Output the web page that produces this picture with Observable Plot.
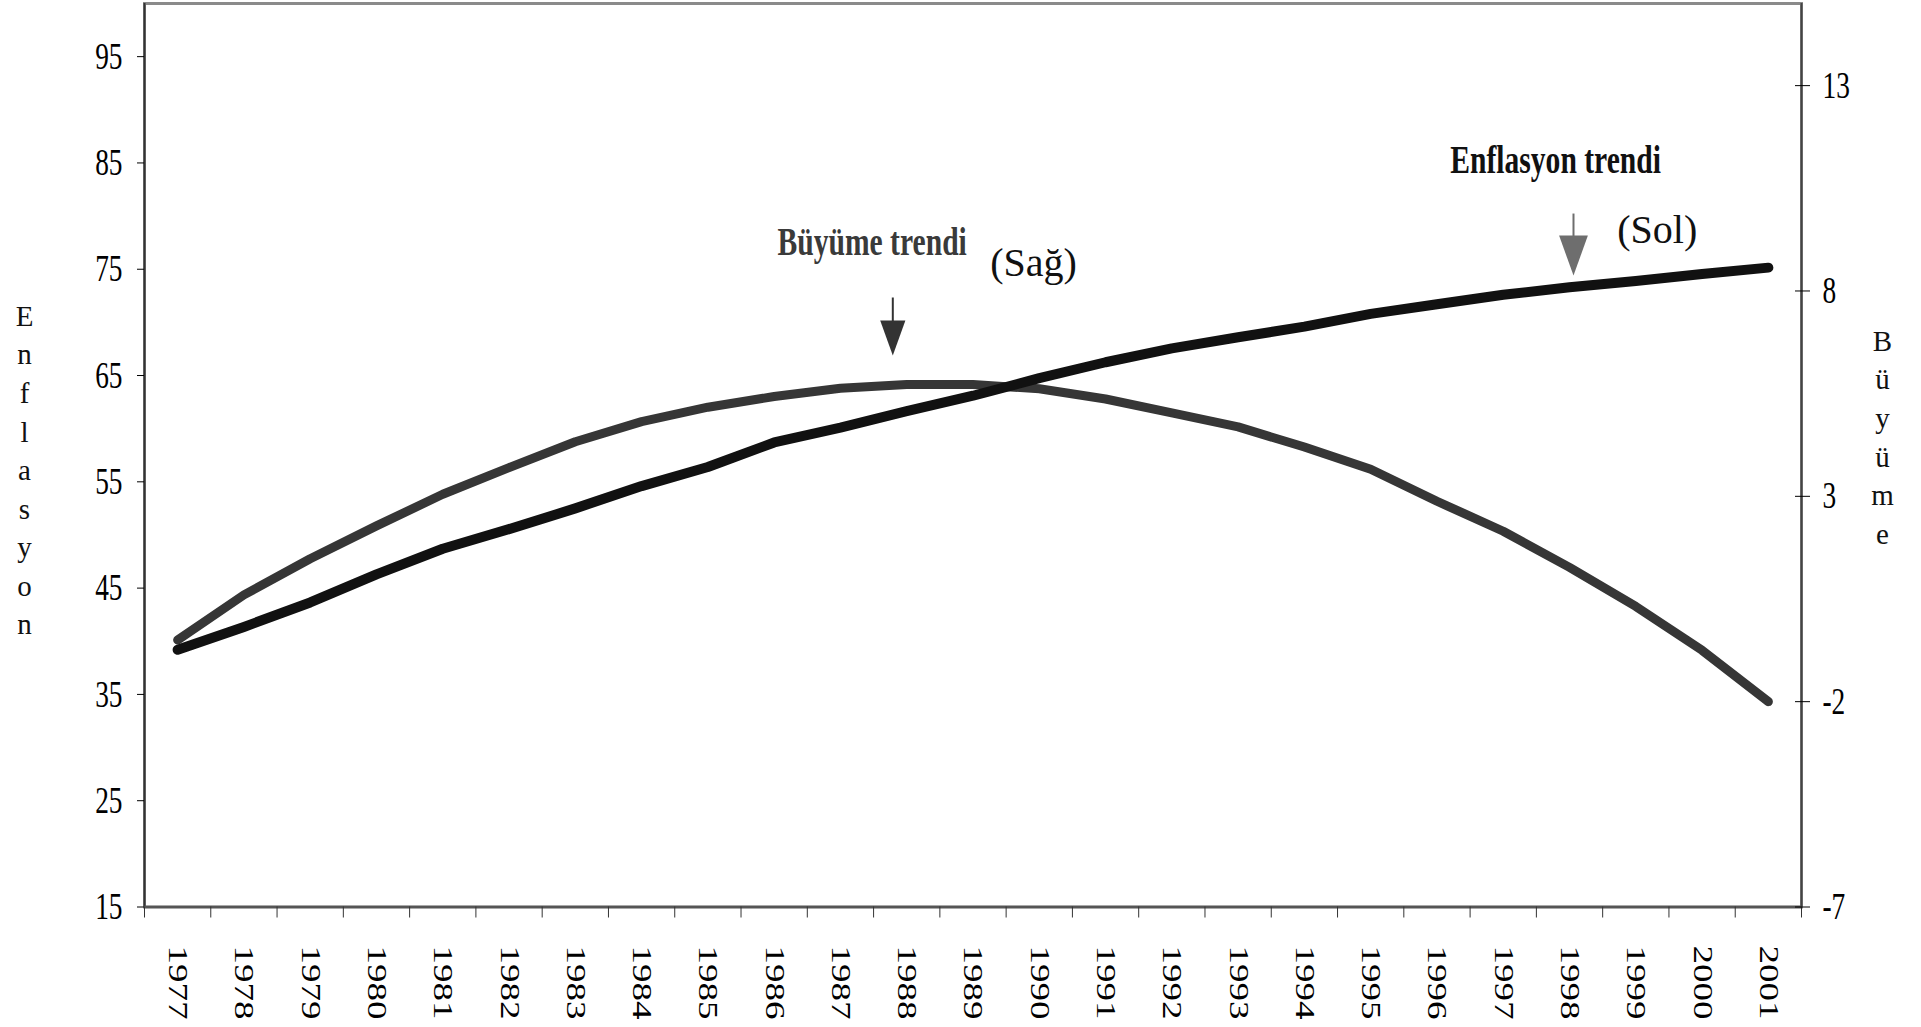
<!DOCTYPE html>
<html>
<head>
<meta charset="utf-8">
<script src="https://cdn.jsdelivr.net/npm/d3@7"></script>
<script src="https://cdn.jsdelivr.net/npm/@observablehq/plot@0.6"></script>
<style>
  html, body { margin: 0; padding: 0; background: #fff; overflow: hidden; }
  svg { display: block; }
</style>
</head>
<body>
<div id="chart"></div>
<script>
// ---- data ----
const years = [1977,1978,1979,1980,1981,1982,1983,1984,1985,1986,1987,1988,1989,1990,1991,1992,1993,1994,1995,1996,1997,1998,1999,2000,2001];
// Enflasyon trendi (left axis)
const inflationTrend = [39.2,41.35,43.65,46.3,48.7,50.55,52.5,54.6,56.4,58.7,60.1,61.65,63.1,64.75,66.25,67.55,68.6,69.6,70.8,71.7,72.6,73.3,73.9,74.55,75.15];
// Büyüme trendi (right axis)
const growthTrend = [-0.5,0.6,1.48,2.28,3.05,3.7,4.33,4.82,5.17,5.43,5.63,5.72,5.72,5.62,5.37,5.03,4.69,4.2,3.66,2.88,2.15,1.27,0.32,-0.75,-2.0];
const leftTicks = [15,25,35,45,55,65,75,85,95];
const rightTicks = [-7,-2,3,8,13];
const leftDomain = [15,100];
const rightDomain = [-7,15];
const leftTitle = "Enflasyon";
const rightTitle = "Büyüme";
const notesBold = [
  {text: "Büyüme trendi", u: 9.55, v: 77.5, color: "#3a3a3a"},
  {text: "Enflasyon trendi", u: 19.70, v: 85.23, color: "#111"}
];
const notesPlain = [
  {text: "(Sağ)", u: 12.76, v: 75.54},
  {text: "(Sol)", u: 22.22, v: 78.64}
];
const arrows = [
  {u: 11.29, vTop: 72.34, vBase: 69.9, vHead: 68.53, r: 17.5, color: "#333"},
  {u: 21.56, vTop: 80.24, vBase: 77.9, vHead: 76.29, r: 20, color: "#6e6e6e"}
];

// ---- helpers ----
const k = (leftDomain[1] - leftDomain[0]) / (rightDomain[1] - rightDomain[0]);
const toLeft = r => leftDomain[0] + (r - rightDomain[0]) * k;
const fromLeft = l => rightDomain[0] + (l - leftDomain[0]) / k;
const table = years.map((y, i) => ({u: i + 0.5, year: y, inf: inflationTrend[i], gr: toLeft(growthTrend[i])}));
const boundaries = d3.range(0, years.length + 1);
const centers = years.map((y, i) => i + 0.5);
const downTriangle = {
  draw(ctx, size) {
    const r = Math.sqrt(size / Math.PI), w = r * 0.72;
    ctx.moveTo(-w, -r); ctx.lineTo(w, -r); ctx.lineTo(0, r); ctx.closePath();
  }
};
const font = "'Liberation Serif', 'Times New Roman', serif";

const svg = Plot.plot({
  width: 1921,
  height: 1027,
  marginTop: 3,
  marginBottom: 120.5,
  marginLeft: 144,
  marginRight: 120,
  x: {domain: [0, years.length], axis: null},
  y: {domain: leftDomain, axis: null},
  style: {fontFamily: font, color: "#000", background: "#fff", overflow: "visible"},
  marks: [
    Plot.frame({stroke: "#8a8a8a", strokeWidth: 3}),
    Plot.ruleX([0], {stroke: "#333", strokeWidth: 2}),
    Plot.ruleX([years.length], {stroke: "#444", strokeWidth: 2}),
    Plot.ruleY([leftDomain[0]], {stroke: "#555", strokeWidth: 2.5}),
    // x ticks at year boundaries
    Plot.axisX(boundaries, {tickSize: 11, stroke: "#333", tickFormat: () => "", label: null}),
    // x labels at band centres
    Plot.axisX(centers, {tickSize: 0, tickRotate: 90, tickPadding: 38.5, fontSize: 37, label: null,
      tickFormat: d => String(years[Math.floor(d)])}),
    // left axis
    Plot.axisY(leftTicks, {anchor: "left", tickSize: 7, tickPadding: 15, fontSize: 38, label: null,
      tickFormat: d => String(d)}),
    // right axis
    Plot.axisY(rightTicks.map(toLeft), {anchor: "right", tickSize: 15, dx: -7, tickPadding: 13, fontSize: 38, label: null,
      tickFormat: d => String(Math.round(fromLeft(d)))}),
    // axis titles (stacked letters)
    Plot.text([leftTitle.split("").join("\n")], {frameAnchor: "top-left", dx: -120, dy: 295,
      textAnchor: "middle", lineAnchor: "top", lineHeight: 1.33, fontSize: 29, fill: "#111"}),
    Plot.text([rightTitle.split("").join("\n")], {frameAnchor: "top-right", dx: 81, dy: 320,
      textAnchor: "middle", lineAnchor: "top", lineHeight: 1.33, fontSize: 29, fill: "#111"}),
    // series
    Plot.line(table, {x: "u", y: "gr", stroke: "#363636", strokeWidth: 9,
      strokeLinecap: "round", strokeLinejoin: "round"}),
    Plot.line(table, {x: "u", y: "inf", stroke: "#111", strokeWidth: 10,
      strokeLinecap: "round", strokeLinejoin: "round"}),
    // annotations
    ...arrows.map(a => Plot.link([a], {x1: "u", x2: "u", y1: "vTop", y2: "vBase", stroke: a.color, strokeWidth: 2})),
    ...arrows.map(a => Plot.dot([a], {x: "u", y: "vHead", r: a.r, symbol: downTriangle, fill: a.color, stroke: null})),
    Plot.text(notesBold, {x: "u", y: "v", text: "text", fill: "color", textAnchor: "start", lineAnchor: "middle",
      fontSize: 40, fontWeight: "bold"}),
    Plot.text(notesPlain, {x: "u", y: "v", text: "text", fill: "#111", textAnchor: "start", lineAnchor: "middle",
      fontSize: 40})
  ]
});

// narrow the condensed-looking labels as in the original
function squeeze(nodes, s) {
  nodes.each(function() {
    const t = this.getAttribute("transform") || "";
    this.setAttribute("transform", (t + " " + s).trim());
  });
}
const root = d3.select(svg);
squeeze(root.selectAll('g[aria-label="y-axis tick label"] text'), "scale(0.72,1)");
squeeze(root.selectAll('g[aria-label="x-axis tick label"] text'), "scale(1,0.72)");
const boldSet = new Set(notesBold.map(d => d.text));
squeeze(root.selectAll("text").filter(function() { return boldSet.has(this.textContent); }), "scale(0.74,1)");

document.getElementById("chart").appendChild(svg);
</script>
</body>
</html>
